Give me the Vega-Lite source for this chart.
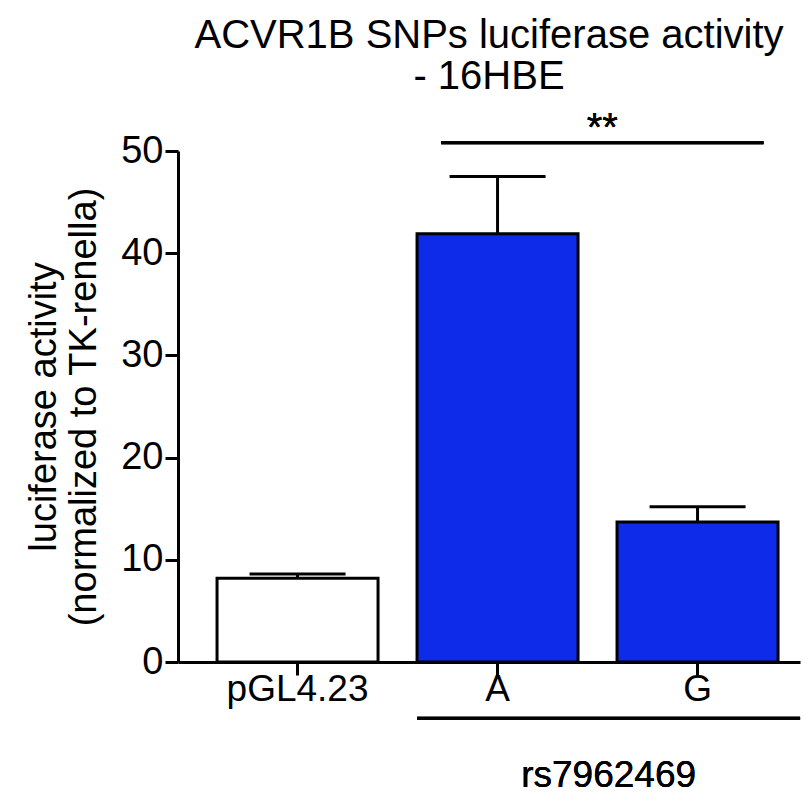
{
  "$schema": "https://vega.github.io/schema/vega-lite/v6.json",
  "autosize": {"type": "none"},
  "padding": {"left": 178, "top": 151, "right": 5, "bottom": 143},
  "width": 622,
  "height": 511,
  "config": {
    "view": {"stroke": null},
    "font": "Liberation Sans",
    "axis": {"domainColor": "black", "tickColor": "black", "labelColor": "black", "titleColor": "black", "domainWidth": 3, "tickWidth": 3, "tickSize": 13, "grid": false, "labelFont": "Liberation Sans", "titleFont": "Liberation Sans", "titleFontWeight": "normal"}
  },
  "title": {
    "text": ["ACVR1B SNPs luciferase activity", "- 16HBE"],
    "fontSize": 40,
    "fontWeight": "normal",
    "font": "Liberation Sans",
    "color": "black",
    "anchor": "middle",
    "lineHeight": 41,
    "offset": 12
  },
  "data": {
    "values": [
      {"construct": "pGL4.23", "kind": "control", "mean": 8.2, "upper": 8.6},
      {"construct": "A", "kind": "SNP", "mean": 41.9, "upper": 47.5},
      {"construct": "G", "kind": "SNP", "mean": 13.7, "upper": 15.2}
    ]
  },
  "encoding": {
    "x": {
      "field": "construct",
      "type": "nominal",
      "sort": ["pGL4.23", "A", "G"],
      "scale": {"paddingInner": 0.195, "paddingOuter": 0.1525, "align": 0.64},
      "axis": {"title": null, "labelAngle": 0, "labelFontSize": 37, "labelPadding": -4}
    }
  },
  "layer": [
    {
      "mark": {"type": "rule", "strokeWidth": 3, "color": "black", "opacity": 1},
      "encoding": {
        "y": {"field": "mean", "type": "quantitative"},
        "y2": {"field": "upper"}
      }
    },
    {
      "mark": {"type": "tick", "size": 96, "thickness": 3, "color": "black", "opacity": 1},
      "encoding": {
        "y": {"field": "upper", "type": "quantitative"}
      }
    },
    {
      "mark": {"type": "bar", "stroke": "black", "strokeWidth": 3, "opacity": 1},
      "encoding": {
        "y": {
          "field": "mean",
          "type": "quantitative",
          "scale": {"domain": [0, 50], "nice": false, "zero": true},
          "axis": {"title": ["luciferase activity", "(normalized to TK-renella)"], "values": [0, 10, 20, 30, 40, 50], "labelFontSize": 38, "labelPadding": 2, "titleFontSize": 38, "titleLineHeight": 40, "titlePadding": 17}
        },
        "fill": {
          "field": "kind",
          "type": "nominal",
          "scale": {"domain": ["control", "SNP"], "range": ["white", "#0d2be9"]},
          "legend": null
        }
      }
    },
    {
      "mark": {"type": "rule", "strokeWidth": 3, "color": "black"},
      "encoding": {
        "x": {"datum": "A", "bandPosition": 0.15},
        "x2": {"datum": "G", "bandPosition": 0.91},
        "y": {"datum": 50.8}
      }
    },
    {
      "mark": {"type": "text", "fontSize": 40, "font": "Liberation Sans", "baseline": "middle", "align": "center", "color": "black"},
      "encoding": {
        "x": {"datum": "A", "bandPosition": 1.15},
        "y": {"datum": 52.2},
        "text": {"value": "**"}
      }
    },
    {
      "mark": {"type": "rule", "strokeWidth": 3, "color": "black"},
      "encoding": {
        "x": {"datum": "A", "bandPosition": 0},
        "x2": {"datum": "G", "bandPosition": 1.137},
        "y": {"datum": -5.5}
      }
    },
    {
      "mark": {"type": "text", "fontSize": 37, "font": "Liberation Sans", "baseline": "middle", "align": "center", "color": "black"},
      "encoding": {
        "x": {"datum": "A", "bandPosition": 1.19},
        "y": {"datum": -11.2},
        "text": {"value": "rs7962469"}
      }
    }
  ]
}
